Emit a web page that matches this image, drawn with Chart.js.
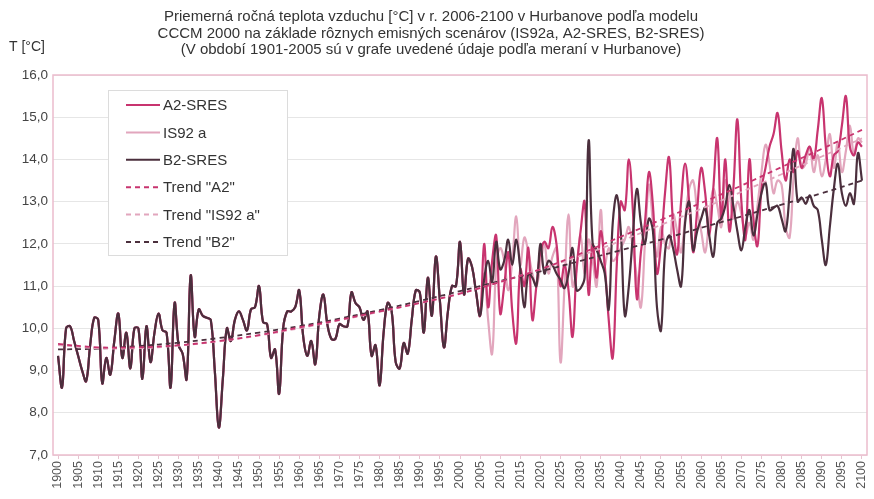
<!DOCTYPE html>
<html>
<head>
<meta charset="utf-8">
<script src="https://cdn.jsdelivr.net/npm/chart.js@4.4.1/dist/chart.umd.min.js"></script>
<style>
html, body { margin: 0; padding: 0; background: #fff; }
#wrap { width: 874px; height: 499px; }
</style>
</head>
<body>
<div id="wrap"><canvas id="chart"></canvas></div>
<script>
const titleLines = [
    "Priemerná ročná teplota vzduchu [°C] v r. 2006-2100 v Hurbanove podľa modelu",
    "CCCM 2000 na základe rôznych emisných scenárov (IS92a, A2-SRES, B2-SRES)",
    "(V období 1901-2005 sú v grafe uvedené údaje podľa meraní v Hurbanove)"
];
const yTitle = "T [°C]";
const tickYears = [1900, 1905, 1910, 1915, 1920, 1925, 1930, 1935, 1940, 1945, 1950,
                   1955, 1960, 1965, 1970, 1975, 1980, 1985, 1990, 1995, 2000,
                   2005, 2010, 2015, 2020, 2025, 2030, 2035, 2040, 2045, 2050,
                   2055, 2060, 2065, 2070, 2075, 2080, 2085, 2090, 2095, 2100];

// merané hodnoty 1900-2005
const measuredStart = 1900;
const measured = [
    9.35, 8.6, 10.0, 10.05, 9.7, 9.35, 9.0, 8.75, 9.6, 10.25,
    10.2, 8.7, 9.3, 8.9, 9.7, 10.35, 9.3, 9.9, 9.05, 10.0,
    10.0, 8.8, 10.05, 9.2, 9.9, 10.35, 9.95, 9.9, 8.6, 10.6,
    9.6, 9.4, 8.8, 11.25, 9.8, 10.45, 10.3, 10.25, 10.2, 9.0,
    7.65, 8.8, 10.0, 9.7, 10.2, 10.4, 10.2, 9.95, 10.45, 10.5,
    11.0, 10.15, 10.1, 9.3, 9.5, 8.45, 10.0, 10.4, 10.4, 10.5,
    10.9, 9.8, 9.35, 9.7, 9.15, 10.3, 10.8, 10.1, 9.75, 9.75,
    10.1, 10.05, 10.05, 10.85, 10.6, 10.5, 10.2, 10.4, 9.35, 9.6,
    8.65, 9.9, 10.6, 10.4, 9.2, 9.05, 9.65, 9.4, 10.2, 10.9,
    10.85, 9.9, 11.2, 10.3, 11.7, 10.65, 9.55, 10.4, 11.0, 11.0,
    12.05, 10.8, 11.65, 11.45, 10.85, 10.3
];

// scenáre 2006-2100
const a2Sres = [
    12.0, 10.5, 11.6, 12.2, 10.35, 11.0, 11.8, 10.4, 9.65, 11.4,
    11.0, 11.9, 10.2, 11.0, 11.8, 12.05, 11.9, 12.4, 12.0, 11.0,
    11.5, 10.9, 9.8, 11.4, 12.3, 13.0, 10.8, 12.0, 11.2, 12.3,
    11.5, 10.2, 9.3, 11.5, 13.0, 12.8, 14.0, 12.8, 10.7, 11.8,
    12.5, 13.7, 12.9, 11.3, 12.0, 13.2, 14.05, 12.5, 11.75, 13.0,
    13.9, 13.0, 11.8, 12.8, 13.8, 13.2, 12.2, 13.3, 14.5, 12.6,
    14.0, 12.3, 13.3, 14.95, 13.0, 12.1, 14.0, 12.6, 11.95, 13.3,
    13.8, 14.3, 14.6, 15.1, 14.2, 13.5, 14.0, 13.7, 14.2, 13.8,
    14.1, 14.3, 14.0, 14.7, 15.45, 14.3, 13.6, 14.1, 14.2, 14.8,
    15.5, 14.3, 14.1, 14.4, 14.3
];
const is92a = [
    11.3, 10.2, 9.4, 11.45, 11.9, 11.6, 10.9, 11.6, 12.65, 11.5,
    12.15, 11.8, 11.3, 11.0, 11.5, 12.0, 11.3, 11.7, 11.9, 9.2,
    11.0, 12.7, 11.0, 11.4, 12.2, 11.3, 12.1, 11.6, 11.0, 12.8,
    11.5, 11.9, 11.6, 11.7, 11.9, 12.1, 12.4, 11.9, 11.2, 10.5,
    12.0, 13.4, 12.5, 11.7, 12.4, 12.0, 11.9, 12.7, 12.3, 11.8,
    12.6, 13.3, 13.5, 12.8, 12.3, 11.8, 12.6, 13.3, 12.9, 12.4,
    13.5, 13.2, 12.6, 13.0, 12.7, 12.2, 12.5, 12.1, 12.9, 13.7,
    14.35, 13.9, 13.2, 13.5, 13.4, 12.4, 12.15, 13.6, 14.5, 13.8,
    13.9, 14.3, 13.7, 14.1, 13.6, 14.0, 14.6, 13.8, 14.4, 13.7,
    14.2, 14.8, 14.1, 14.5, 14.4
];
const b2Sres = [
    11.15, 11.6, 11.1, 12.05, 11.4, 11.6, 12.1, 11.5, 12.1, 11.4,
    10.5, 11.3, 11.2, 11.0, 12.0, 11.3, 11.6, 11.5, 11.3, 11.15,
    10.95, 11.3, 11.9, 10.9, 10.95, 11.2, 14.45, 12.0, 11.85, 11.6,
    11.3, 10.45, 12.5, 13.15, 12.3, 10.3, 11.0, 12.2, 13.3, 12.5,
    12.0, 12.6, 12.3, 10.5, 9.95, 11.8, 12.2, 11.9, 11.4, 11.0,
    12.5, 13.0, 11.85, 12.3, 12.6, 12.85, 12.2, 11.7, 12.5, 12.6,
    12.9, 13.4, 12.9, 12.3, 11.85, 12.4, 12.8, 12.2, 12.7, 13.2,
    13.45, 12.8, 12.85, 12.9, 12.6, 12.3, 13.2, 14.25, 13.0, 13.1,
    12.95, 13.15, 12.9, 12.8, 12.1, 11.5, 12.4, 13.3, 13.9, 13.2,
    12.9, 13.2, 12.95, 14.15, 13.5
];

// trendy (odčítané každých 10 rokov)
const trendYears = [1900, 1910, 1920, 1930, 1940, 1950, 1960, 1970, 1980, 1990, 2000,
                    2010, 2020, 2030, 2040, 2050, 2060, 2070, 2080, 2090, 2100];
const trendA2 = [9.63, 9.55, 9.55, 9.6, 9.7, 9.84, 10.02, 10.2, 10.4, 10.6, 10.82,
                 11.1, 11.4, 11.77, 12.17, 12.57, 12.97, 13.38, 13.82, 14.25, 14.7];
const trendIS92a = [9.6, 9.53, 9.53, 9.59, 9.69, 9.83, 10.0, 10.19, 10.39, 10.6, 10.83,
                    11.1, 11.4, 11.72, 12.07, 12.45, 12.83, 13.23, 13.65, 14.07, 14.5];
const trendB2 = [9.5, 9.52, 9.58, 9.66, 9.77, 9.9, 10.05, 10.23, 10.43, 10.65, 10.88,
                 11.12, 11.35, 11.6, 11.85, 12.1, 12.38, 12.65, 12.93, 13.2, 13.5];

const colA2 = "#c8346f";
const colIS = "#e2a6bd";
const colB2 = "#4b2f3d";
const fontFam = "'Liberation Sans', Arial, sans-serif";

function series(values) {
    return values.map((v, i) => ({ x: measuredStart + i, y: v }));
}
function trend(values) {
    return values.map((v, i) => ({ x: trendYears[i], y: v }));
}

const decor = {
    id: "decor",
    beforeDatasetsDraw(chart) {
        const { ctx, chartArea: a } = chart;
        ctx.save();
        ctx.strokeStyle = "#ebbccd";
        ctx.lineWidth = 1.5;
        ctx.strokeRect(a.left, a.top, a.right - a.left, a.bottom - a.top);
        ctx.restore();
    },
    afterDraw(chart) {
        const { ctx, chartArea: a } = chart;
        ctx.save();
        // titulok
        ctx.fillStyle = "#333";
        ctx.font = "15px " + fontFam;
        ctx.textAlign = "center";
        ctx.textBaseline = "middle";
        titleLines.forEach((t, i) => ctx.fillText(t, 431, 17 + i * 16.5));
        ctx.textAlign = "left";
        ctx.font = "14px " + fontFam;
        ctx.fillText(yTitle, 9, 47);

        // legenda
        const lx = a.left + 55, ly = a.top + 15, w = 179, h = 165;
        ctx.fillStyle = "#fff";
        ctx.fillRect(lx, ly, w, h);
        ctx.strokeStyle = "#dcdcdc";
        ctx.lineWidth = 1;
        ctx.strokeRect(lx + 0.5, ly + 0.5, w, h);
        ctx.font = "15px " + fontFam;
        chart.data.datasets.forEach((ds, i) => {
            const y = ly + 15 + i * 27.4;
            ctx.beginPath();
            ctx.strokeStyle = ds.borderColor;
            ctx.lineWidth = 2;
            ctx.setLineDash(ds.borderDash || []);
            ctx.moveTo(lx + 18, y);
            ctx.lineTo(lx + 52, y);
            ctx.stroke();
            ctx.setLineDash([]);
            ctx.fillStyle = "#333";
            ctx.fillText(ds.label, lx + 55, y + 1);
        });
        ctx.restore();
    }
};

const line = (label, data, color, order, dash) => ({
    label, data, order,
    borderColor: color,
    borderWidth: dash ? 1.8 : 2.2,
    borderDash: dash,
    pointRadius: 0,
    tension: 0.4,
    fill: false
});

new Chart(document.getElementById("chart"), {
    type: "line",
    data: {
        datasets: [
            line("A2-SRES", series(measured.concat(a2Sres)), colA2, 2),
            line("IS92 a", series(measured.concat(is92a)), colIS, 3),
            line("B2-SRES", series(measured.concat(b2Sres)), colB2, 1),
            line('Trend "A2"', trend(trendA2), colA2, 0, [5, 4]),
            line('Trend "IS92 a"', trend(trendIS92a), colIS, 0, [5, 4]),
            line('Trend "B2"', trend(trendB2), colB2, 0, [5, 4])
        ]
    },
    options: {
        responsive: true,
        maintainAspectRatio: false,
        animation: false,
        layout: { padding: { top: 75, right: 7, left: 0, bottom: 0 } },
        plugins: { legend: { display: false }, title: { display: false }, tooltip: { enabled: false } },
        scales: {
            x: {
                type: "linear",
                min: 1898.75,
                max: 2101.25,
                afterFit: s => { s.height = 44; s.paddingRight = 0; s.paddingLeft = 0; },
                afterBuildTicks: s => { s.ticks = tickYears.map(v => ({ value: v })); },
                grid: { drawOnChartArea: false, color: "#e8c3d0", tickLength: 4 },
                border: { display: false },
                ticks: {
                    autoSkip: false,
                    maxRotation: 90,
                    minRotation: 90,
                    padding: 2,
                    color: "#555",
                    font: { size: 12.5, family: fontFam },
                    callback: v => String(v)
                }
            },
            y: {
                min: 7,
                max: 16,
                afterFit: s => { s.width = 53; },
                grid: { color: "#e6e6e6", drawTicks: false },
                border: { display: false },
                ticks: {
                    stepSize: 1,
                    padding: 5,
                    color: "#444",
                    font: { size: 13.5, family: fontFam },
                    callback: v => v.toFixed(1).replace(".", ",")
                }
            }
        }
    },
    plugins: [decor]
});
</script>
</body>
</html>
